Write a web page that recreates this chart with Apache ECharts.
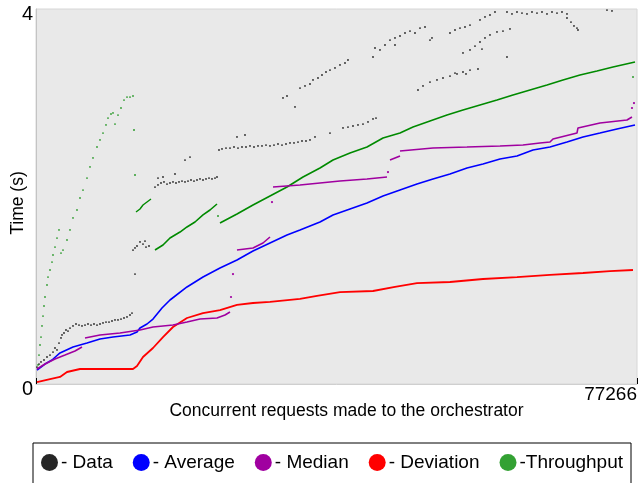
<!DOCTYPE html>
<html>
<head>
<meta charset="utf-8">
<script src="https://cdn.jsdelivr.net/npm/echarts@6/dist/echarts.min.js"></script>
<style>
  html, body { margin: 0; padding: 0; background: #ffffff; }
  #chart { width: 638px; height: 483px; }
</style>
</head>
<body>
<div id="chart"></div>
<script>
// Axis ranges and tick labels
const requestsMax = 77266;
const timeTicks = [0, 4];
const xTitle = 'Concurrent requests made to the orchestrator';
const yTitle = 'Time (s)';

// Legend entries, in order
const legendNames = ['Data', 'Average', 'Median', 'Deviation', 'Throughput'];

// Individual response times: [request index, seconds]
const dataPoints = [
  [129,0.181],[386,0.213],[643,0.235],[1028,0.256],[1414,0.288],[1800,0.309],[2186,0.341],[2443,0.384],
  [2700,0.363],[2957,0.437],[3214,0.491],[3343,0.523],[3600,0.544],[3857,0.576],[4114,0.565],[4371,0.597],
  [4757,0.619],[5142,0.640],[5528,0.629],[5914,0.619],[6300,0.629],[6685,0.640],[7071,0.629],[7457,0.640],
  [7842,0.629],[8228,0.640],[8614,0.651],[9000,0.661],[9385,0.661],[9771,0.672],[10156,0.683],[10542,0.683],
  [10928,0.693],[11313,0.704],[11699,0.715],[12085,0.736],[12342,0.757],
  [12470,1.429],[12728,1.451],[12985,1.472],[13370,1.515],[13756,1.493],[14142,1.461],[14527,1.472],[14013,1.525],
  [12728,1.173],
  [15298,2.101],[15684,2.123],[16070,2.144],[16455,2.155],[16841,2.133],[17227,2.144],[17613,2.155],[17998,2.144],
  [18384,2.155],[18770,2.165],[19155,2.155],[19541,2.165],[19927,2.176],[20312,2.165],[20698,2.176],[21084,2.187],
  [21470,2.176],[21855,2.187],[22241,2.197],[22627,2.187],[23012,2.197],[23270,2.208],[16327,2.208],[17870,2.240],
  [15684,2.197],[19155,2.389],[19798,2.421],
  [23527,2.496],[23912,2.507],[24427,2.517],[24941,2.517],[25455,2.528],[25969,2.517],[26484,2.528],[26998,2.528],
  [27512,2.539],[28026,2.528],[28541,2.539],[29055,2.539],[29569,2.549],[30083,2.539],[30597,2.549],[31112,2.560],
  [31626,2.549],[32140,2.560],[32654,2.571],[33169,2.571],[33683,2.581],[34197,2.592],[34711,2.592],[35225,2.603],
  [25840,2.635],[26869,2.656],
  [35868,2.635],[37796,2.677],[39468,2.731],[40110,2.741],[40753,2.752],[41396,2.763],[42039,2.773],[42682,2.795],
  [43325,2.827],[43711,2.837],
  [31754,3.051],[32269,3.072],[33297,2.955],[33940,3.157],[34583,3.179],[35225,3.200],[35611,3.243],[36254,3.264],
  [36768,3.296],[37282,3.328],[37796,3.349],[38439,3.371],[39082,3.403],[39725,3.424],[40110,3.456],
  [43325,3.488],[44224,3.563],[44867,3.616],[45510,3.669],[46153,3.691],[46796,3.712],[47439,3.744],[48081,3.765],
  [48724,3.744],[49367,3.797],[50010,3.808],[50652,3.669],[50909,3.691],[43582,3.584],[46153,3.616],
  [49110,3.136],[49753,3.179],[50652,3.221],[51552,3.243],[52323,3.264],[53224,3.285],[54124,3.307],[54895,3.328],
  [55795,3.349],[56823,3.360],[55281,3.307],[53867,3.317],
  [53224,3.744],[53867,3.776],[54509,3.797],[55152,3.808],[55795,3.829],
  [54895,3.531],[55795,3.563],[56438,3.605],[57080,3.648],[57723,3.691],[58366,3.723],[59265,3.755],[60037,3.765],
  [60937,3.787],[57337,3.573],
  [57080,3.883],[57723,3.915],[58366,3.936],[59008,3.968],
  [60551,3.968],[61194,3.947],[61837,3.968],[62480,3.957],[63123,3.947],[63765,3.968],[64408,3.957],[65051,3.968],
  [65694,3.947],[66337,3.968],[66980,3.957],[67622,3.968],[68265,3.947],
  [68265,3.904],[68779,3.861],[69165,3.819],[69550,3.797],[69679,3.776],
  [73407,3.989],[74050,3.979],[60551,3.488]
];

// Running average of response time
const averagePoints = [
  [129,0.149],[1157,0.213],[2057,0.256],[3085,0.331],[4757,0.395],[6557,0.437],[8228,0.480],[9899,0.501],
  [12085,0.523],[12985,0.555],[13370,0.597],[14270,0.640],[15041,0.693],[16198,0.811],[17227,0.896],[19412,1.035],
  [21470,1.141],[23655,1.237],[25840,1.323],[27898,1.419],[30083,1.504],[32269,1.589],[33940,1.643],[36511,1.728],
  [38182,1.803],[40368,1.867],[42553,1.931],[44610,2.005],[46796,2.069],[48981,2.133],[51038,2.187],[53224,2.240],
  [55409,2.304],[57466,2.347],[59651,2.400],[61837,2.432],[63894,2.496],[66079,2.528],[68265,2.581],[70322,2.635],
  [72507,2.677],[74693,2.720],[77007,2.763]
];

// Running median, drawn in pieces where it jumps
const medianSegA = [[129,0.160],[1157,0.213],[2443,0.267],[3728,0.309],[5014,0.352],[5914,0.395]];
const medianSegB = [[6300,0.491],[8228,0.523],[10799,0.544],[13370,0.576],[15041,0.608],[17613,0.629],[19412,0.661],
  [21084,0.693],[23270,0.704],[24298,0.736],[24941,0.768]];
const medianSegC = [[25840,1.429],[27898,1.451],[29183,1.504],[30083,1.568]];
const medianSegD = [[30469,2.101],[33940,2.123],[36511,2.144],[39082,2.165],[42553,2.187],[45124,2.208]];
const medianSegE = [[45510,2.389],[46796,2.432]];
const medianSegF = [[46796,2.485],[51038,2.517],[55409,2.528],[59651,2.539],[62608,2.549],[64794,2.571],[66079,2.581],
  [66465,2.613],[69550,2.677],[69679,2.731],[72507,2.784],[75978,2.816],[76621,2.848]];
const medianDots = [[25070,0.928],[25326,1.173],[30340,1.941],[45253,2.261],[76621,2.944],[76878,2.997]];

// Standard deviation of response time
const deviationPoints = [
  [129,0.021],[1800,0.053],[3085,0.075],[3985,0.128],[5657,0.160],[8228,0.160],[12470,0.160],[12985,0.192],
  [13756,0.288],[15041,0.384],[16327,0.501],[17613,0.608],[19412,0.704],[21470,0.757],[23655,0.789],[25840,0.843],
  [27898,0.864],[30083,0.875],[33940,0.907],[36125,0.939],[39082,0.981],[43325,0.992],[46153,1.035],[48981,1.077],
  [53224,1.088],[57466,1.120],[61837,1.141],[66079,1.163],[70322,1.184],[73793,1.205],[76750,1.216]
];

// Throughput: sparse early ramps, then continuous runs
const throughputRampA = [[257,0.203],[386,0.309],[514,0.416],[643,0.501],[771,0.619],[900,0.725],[1028,0.832],
  [1157,0.928],[1414,1.056],[1543,1.141],[1800,1.216],[2057,1.301],[2186,1.376],[2443,1.461],[2700,1.557],[2957,1.643]];
const throughputRampB = [[3214,1.397],[3471,1.429],[3985,1.536],[4371,1.643],[4757,1.771],[5271,1.856],[5657,1.984],
  [6042,2.069],[6557,2.197],[6942,2.315],[7328,2.411],[7842,2.528],[8228,2.603],[8614,2.677],[9000,2.763],[9256,2.837],
  [9642,2.880],[9899,2.891]];
const throughputRampC = [[10156,2.773],[10542,2.869],[10928,2.944],[11313,3.029],[11699,3.061],[12085,3.061],[12470,3.072]];
const throughputDots = [[12599,2.709],[12728,2.229],[23398,1.792],[76750,3.275]];
const throughputSegA = [[12856,1.835],[13370,1.867],[13756,1.909],[14270,1.941],[14784,1.973]];
const throughputSegB = [[15298,1.429],[16327,1.483],[17227,1.557],[18513,1.621],[19412,1.675],[20441,1.728],
  [21470,1.803],[22369,1.856],[23270,1.920]];
const throughputSegC = [[23655,1.717],[25840,1.813],[27898,1.909],[30083,2.005],[32269,2.101],[34326,2.208],
  [36511,2.304],[38182,2.389],[40368,2.464],[42553,2.528],[44610,2.624],[46796,2.677],[48467,2.741],[50652,2.805],
  [52838,2.869],[54895,2.923],[57080,2.976],[59265,3.029],[61323,3.083],[63508,3.136],[65694,3.189],[67751,3.243],
  [69936,3.296],[72121,3.339],[74178,3.381],[77007,3.435]];

const COLORS = {
  Data: '#000000',
  Average: '#0000ff',
  Median: '#a000a0',
  Deviation: '#ff0000',
  Throughput: '#008a00'
};

const FONT = 'Liberation Sans, Arial, Helvetica, sans-serif';
const ELLIPSE = 'path://M0,10 A10,10 0 1,1 20,10 A10,10 0 1,1 0,10 Z';

function lineSeries(name, data, width) {
  return {
    name, type: 'line', data,
    showSymbol: false, symbol: 'none', smooth: false,
    lineStyle: { color: COLORS[name], width: width || 1.6 },
    itemStyle: { color: COLORS[name] },
    z: 3
  };
}
function dotSeries(name, data, size, opacity) {
  return {
    name, type: 'scatter', data,
    symbol: 'circle', symbolSize: size || 2,
    itemStyle: { color: COLORS[name], opacity: opacity == null ? 1 : opacity },
    z: 2
  };
}

const chart = echarts.init(document.getElementById('chart'), null, { renderer: 'canvas' });

chart.setOption({
  animation: false,
  backgroundColor: '#ffffff',
  textStyle: { fontFamily: FONT },
  grid: {
    left: 36, right: 1, top: 9, bottom: 99,
    outerBoundsMode: 'none',
    containLabel: false,
    show: true, backgroundColor: '#e9e9e9', borderColor: '#d6d6d6', borderWidth: 1
  },
  legend: {
    data: legendNames.map(n => ({ name: n, icon: ELLIPSE })),
    left: 33, top: 443,
    orient: 'horizontal',
    padding: [10, 8, 40, 8],
    itemGap: 20,
    itemWidth: 17, itemHeight: 19,
    borderColor: '#000000', borderWidth: 1,
    selectedMode: false,
    formatter: n => (n === 'Throughput' ? '-' + n : '- ' + n),
    textStyle: { fontSize: 19, color: '#000000', fontFamily: FONT, padding: [0, 0, 0, -2] }
  },
  xAxis: {
    type: 'value',
    min: 0, max: requestsMax, interval: requestsMax,
    name: xTitle, nameLocation: 'middle', nameGap: 18, nameMoveOverlap: false,
    nameTextStyle: { fontSize: 17.5, color: '#000000', fontFamily: FONT, padding: [0, 0, 0, 20] },
    axisLine: { show: true, lineStyle: { color: '#cfcfcf', width: 1 } },
    axisTick: { show: true, inside: true, length: 6, lineStyle: { color: '#000000' } },
    splitLine: { show: false },
    axisLabel: {
      show: true, fontSize: 19, color: '#000000', margin: 1, align: 'right',
      formatter: v => (v === requestsMax ? String(requestsMax) : '')
    }
  },
  yAxis: {
    type: 'value',
    min: timeTicks[0], max: timeTicks[timeTicks.length - 1], interval: 4,
    name: yTitle, nameLocation: 'middle', nameGap: 9, nameRotate: 90, nameMoveOverlap: false,
    nameTextStyle: { fontSize: 17.5, color: '#000000', fontFamily: FONT, padding: [0, 13, 0, 0] },
    axisLine: { show: true, lineStyle: { color: '#c4c4c4', width: 1 } },
    axisTick: { show: false },
    splitLine: { show: false },
    axisLabel: {
      show: true, fontSize: 20, color: '#000000', margin: 3,
      verticalAlign: 'top', lineHeight: 10,
      formatter: v => (timeTicks.indexOf(v) >= 0 ? String(v) : '')
    }
  },
  series: [
    dotSeries('Data', dataPoints, 1.8, 0.85),
    dotSeries('Throughput', throughputRampA, 1.8, 0.8),
    dotSeries('Throughput', throughputRampB, 1.8, 0.8),
    dotSeries('Throughput', throughputRampC, 1.8, 0.8),
    dotSeries('Throughput', throughputDots, 2, 0.8),
    lineSeries('Throughput', throughputSegA, 1.4),
    lineSeries('Throughput', throughputSegB),
    lineSeries('Throughput', throughputSegC),
    lineSeries('Deviation', deviationPoints, 1.8),
    lineSeries('Average', averagePoints),
    lineSeries('Median', medianSegA),
    lineSeries('Median', medianSegB),
    lineSeries('Median', medianSegC),
    lineSeries('Median', medianSegD),
    lineSeries('Median', medianSegE),
    lineSeries('Median', medianSegF),
    dotSeries('Median', medianDots, 2.2, 1)
  ]
});
</script>
</body>
</html>
